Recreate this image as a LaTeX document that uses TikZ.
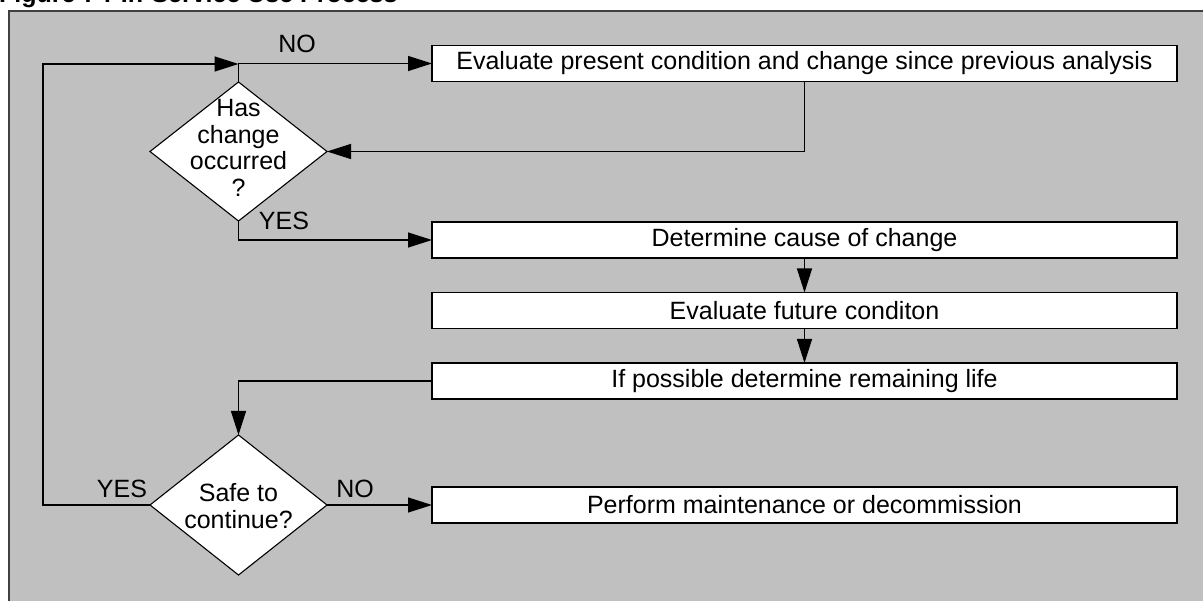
\documentclass[tikz,border=0pt]{standalone}
\usepackage{fontspec}
\setmainfont{Liberation Sans}
\usetikzlibrary{shapes.geometric,arrows.meta}
\definecolor{panelgray}{HTML}{C0C0C0}
\definecolor{framegray}{HTML}{404040}
\begin{document}
\begin{tikzpicture}[x=1pt,y=-1pt,
  every node/.style={font=\fontsize{25}{26.7}\selectfont},
  stepbox/.style={draw=black,line width=1.2pt,fill=white,rectangle,
    minimum width=745pt,minimum height=36pt,inner sep=0pt,outer sep=0pt},
  decision/.style={draw=black,line width=1.1pt,fill=white,diamond,
    minimum width=177pt,minimum height=140pt,inner sep=0pt,outer sep=0pt},
  flow/.style={draw=black,line width=1.2pt,-{Triangle[length=24pt,width=15pt]}},
  tag/.style={inner sep=0pt}]
  \useasboundingbox (0,0) rectangle (1203,601);
  \clip (0,0) rectangle (1203,601);

  % caption above the panel
  \node[anchor=base west,inner sep=0pt,font=\fontsize{25}{28}\selectfont\bfseries]
    (caption) at (-1,2.5) {Figure 7 : In-Service Use Process};

  % grey panel
  \draw[fill=panelgray,draw=framegray,line width=2pt] (9,640) -- (9,11) -- (1240,11) -- (1240,640);

  % process steps
  \node[stepbox] (b1) at (804.5,63.5) {Evaluate present condition and change since previous analysis};
  \node[stepbox] (b2) at (804.5,240) {Determine cause of change};
  \node[stepbox] (b3) at (804.5,310.5) {Evaluate future conditon};
  \node[stepbox] (b4) at (804.5,381) {If possible determine remaining life};
  \node[stepbox] (b5) at (804.5,505) {Perform maintenance or decommission};

  % decisions
  \node[decision,minimum height=139pt] (d1) at (238.5,151.5) {};
  \node[align=center,inner sep=0pt] (d1t) at (238.5,148) {Has\\change\\occurred\\?};
  \node[decision] (d2) at (238.5,505) {};
  \node[align=center,inner sep=0pt] (d2t) at (238.5,506) {Safe to\\continue?};

  % connectors
  \coordinate (loopx) at (43,64);
  \coordinate (join) at (238.5,64);
  \draw[flow] (d1.north) |- (b1.west);
  \draw[flow] (b1.south) |- (d1.east);
  \draw[flow] (d1.south) |- (b2.west);
  \draw[flow] (b2.south) -- (b3.north);
  \draw[flow] (b3.south) -- (b4.north);
  \draw[flow] (b4.west) -| (d2.north);
  \draw[flow] (d2.east) -- (b5.west);
  \draw[flow] (d2.west) -| (loopx) -- (join);

  % branch labels
  \node[tag] (no1) at (297,44) {NO};
  \node[tag] (yes1) at (284,221) {YES};
  \node[tag] (yes2) at (122,489) {YES};
  \node[tag] (no2) at (355,489) {NO};
\end{tikzpicture}
\end{document}
